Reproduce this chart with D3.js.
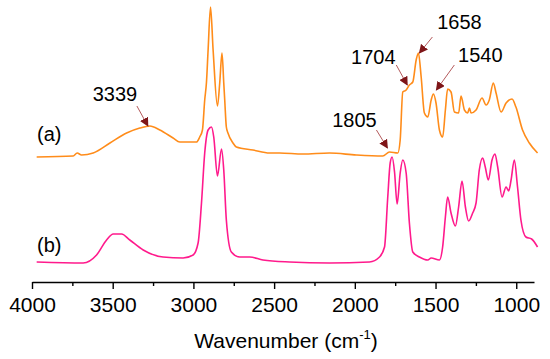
<!DOCTYPE html>
<html>
<head>
<meta charset="utf-8">
<script src="https://cdn.jsdelivr.net/npm/d3@7"></script>
<style>
  body { margin: 0; background: #fff; }
  svg { display: block; font-family: "Liberation Sans", Arial, sans-serif; }
</style>
</head>
<body>
<svg id="chart"></svg>
<script>
// spectrum (a): wavenumber (cm-1) and intensity (a.u.)
var waveA = [3971,3745,3720,3693,3621,3517,3414,3332,3270,3208,3126,3084,3002,2981,2961,2944,2930,2919,2909,2894,
  2878,2851,2837,2823,2812,2806,2796,2786,2755,2734,2631,2528,2466,2322,2157,1991,1827,1785,1734,1719,
  1703,1682,1662,1641,1620,1606,1589,1569,1548,1527,1513,1497,1476,1456,1439,1425,1404,1383,1357,1342,
  1321,1301,1290,1280,1249,1212,1187,1167,1142,1125,1094,1063,1026,1002,961,919,868]
var intA = [125,126,129,127,129,139,149,154,156,152,144,140,140,140,145,152,182,200,232,275,
  232,176,199,229,199,182,155,149,139,135,132,129,129,128,129,127,126,130,129,142,
  190,192,197,200,222,229,205,169,165,182,188,179,152,145,172,193,190,170,169,186,
  172,169,174,169,172,184,177,182,199,189,170,179,183,175,152,139,129]

// spectrum (b)
var waveB = [3971,3683,3600,3538,3497,3445,3394,3311,3188,3064,3002,2971,2950,2930,2909,2888,2874,2851,2826,2812,
  2796,2765,2713,2651,2569,2404,2157,1909,1847,1816,1796,1781,1769,1754,1738,1719,1703,1682,1662,1641,
  1600,1548,1527,1476,1456,1439,1425,1404,1377,1357,1336,1315,1295,1270,1249,1229,1208,1192,1173,1150,
  1132,1115,1088,1063,1047,1032,1012,992,971,940,905,868]
var intB = [20,19,27,42,48,48,42,32,25,24,27,39,79,129,152,155,145,106,133,112,
  62,30,25,25,22,20,19,20,25,35,85,119,125,110,78,109,122,109,59,30,
  25,22,24,22,35,65,85,69,56,75,101,75,61,69,79,112,124,115,102,122,
  128,115,85,95,91,102,122,95,62,45,43,35]

// peak annotations: label, arrow tip wavenumber, arrow tip intensity
var peakLabels = ["3339","1805","1704","1658","1540"]
var peakWave = [3282,1798,1675,1600,1495]
var peakInt = [156,134,197,229,192]

var seriesLabels = ["(a)","(b)"]
var tickValues = [4000,3500,3000,2500,2000,1500,1000]
var minorTicks = [3750,3250,2750,2250,1750,1250]

var screen = {width:550,height:359}
var margins = {top:0,right:16,bottom:77,left:32}
var width = screen.width-margins.left-margins.right
var height = screen.height-margins.top-margins.bottom

var svg = d3.select("#chart")
  .attr("width",screen.width)
  .attr("height",screen.height)

var defs = svg.append("defs")
defs.append("marker")
  .attr("id","head")
  .attr("viewBox","0 0 10 10")
  .attr("refX",9).attr("refY",5)
  .attr("markerWidth",9).attr("markerHeight",9)
  .attr("markerUnits","userSpaceOnUse")
  .attr("orient","auto")
  .append("path")
  .attr("d","M0,0 L10,5 L0,10 Z")
  .attr("fill","#7e1518")

var g = svg.append("g")
  .attr("transform","translate("+margins.left+","+margins.top+")")

var xScale = d3.scaleLinear()
  .domain([4000,890])
  .range([0,width])

var yScale = d3.scaleLinear()
  .domain([0,282])
  .range([height,0])

var line = d3.line()
  .x(function(d){ return xScale(d[0]) })
  .y(function(d){ return yScale(d[1]) })
  .curve(d3.curveMonotoneX)

var series = [
  {pts: d3.zip(waveA,intA), color:"#ff8c1a"},
  {pts: d3.zip(waveB,intB), color:"#ff1a8c"}
]

g.selectAll("path.spec")
  .data(series)
  .enter()
  .append("path")
  .attr("class","spec")
  .attr("d",function(s){ return line(s.pts) })
  .attr("fill","none")
  .attr("stroke",function(s){ return s.color })
  .attr("stroke-width",1.6)
  .attr("stroke-linejoin","round")

// x axis
var xAxis = d3.axisBottom(xScale)
  .tickValues(tickValues)
  .tickFormat(d3.format("d"))
  .tickSize(7)
  .tickSizeOuter(0)
  .tickPadding(8)

var ax = g.append("g")
  .attr("transform","translate(0,"+height+")")
  .call(xAxis)
ax.select(".domain").attr("stroke","#000").attr("stroke-width",1.4)
ax.selectAll(".tick line").attr("stroke","#000").attr("stroke-width",1.4)
ax.selectAll(".tick text")
  .attr("fill","#000")
  .style("font-size","21px")
  .style("font-family","'Liberation Sans', Arial, sans-serif")

var minorAxis = d3.axisBottom(xScale)
  .tickValues(minorTicks)
  .tickFormat("")
  .tickSize(4)
  .tickSizeOuter(0)
var mx = g.append("g")
  .attr("transform","translate(0,"+height+")")
  .call(minorAxis)
mx.select(".domain").remove()
mx.selectAll(".tick line").attr("stroke","#000").attr("stroke-width",1.4)

// axis title
var title = svg.append("text")
  .attr("x",margins.left+width/2+3)
  .attr("y",348)
  .attr("text-anchor","middle")
  .style("font-size","21px")
  .attr("fill","#000")
title.append("tspan").text("Wavenumber (cm")
title.append("tspan").text("-1").attr("dy",-9).style("font-size","13px")
title.append("tspan").text(")").attr("dy",9)

// series labels
var labelPos = [{x:5,y:141},{x:5,y:252}]
g.selectAll("text.series")
  .data(seriesLabels)
  .enter()
  .append("text")
  .attr("class","series")
  .attr("x",function(d,i){ return labelPos[i].x })
  .attr("y",function(d,i){ return labelPos[i].y })
  .style("font-size","20px")
  .attr("fill","#000")
  .text(function(d){ return d })

// peak arrows and labels
var arrowLayout = {
  "3339": {ax:-11, ay:-20, tx:-33, ty:-25},
  "1805": {ax:-11, ay:-18, tx:-33, ty:-21},
  "1704": {ax:-11, ay:-20, tx:-34, ty:-21},
  "1658": {ax:13, ay:-16, tx:40, ty:-24},
  "1540": {ax:18, ay:-25, tx:44, ty:-28}
}

var peaks = peakLabels.map(function(l,i){ return {label:l, w:peakWave[i], v:peakInt[i]} })

g.selectAll("line.arrow")
  .data(peaks)
  .enter()
  .append("line")
  .attr("class","arrow")
  .attr("x1",function(d){ return xScale(d.w)+arrowLayout[d.label].ax })
  .attr("y1",function(d){ return yScale(d.v)+arrowLayout[d.label].ay })
  .attr("x2",function(d){ return xScale(d.w) })
  .attr("y2",function(d){ return yScale(d.v) })
  .attr("stroke","#b45a5c")
  .attr("stroke-width",1)
  .attr("marker-end","url(#head)")

g.selectAll("text.peak")
  .data(peaks)
  .enter()
  .append("text")
  .attr("class","peak")
  .attr("x",function(d){ return xScale(d.w)+arrowLayout[d.label].tx })
  .attr("y",function(d){ return yScale(d.v)+arrowLayout[d.label].ty })
  .attr("text-anchor","middle")
  .style("font-size","20px")
  .attr("fill","#000")
  .text(function(d){ return d.label })
</script>
</body>
</html>
